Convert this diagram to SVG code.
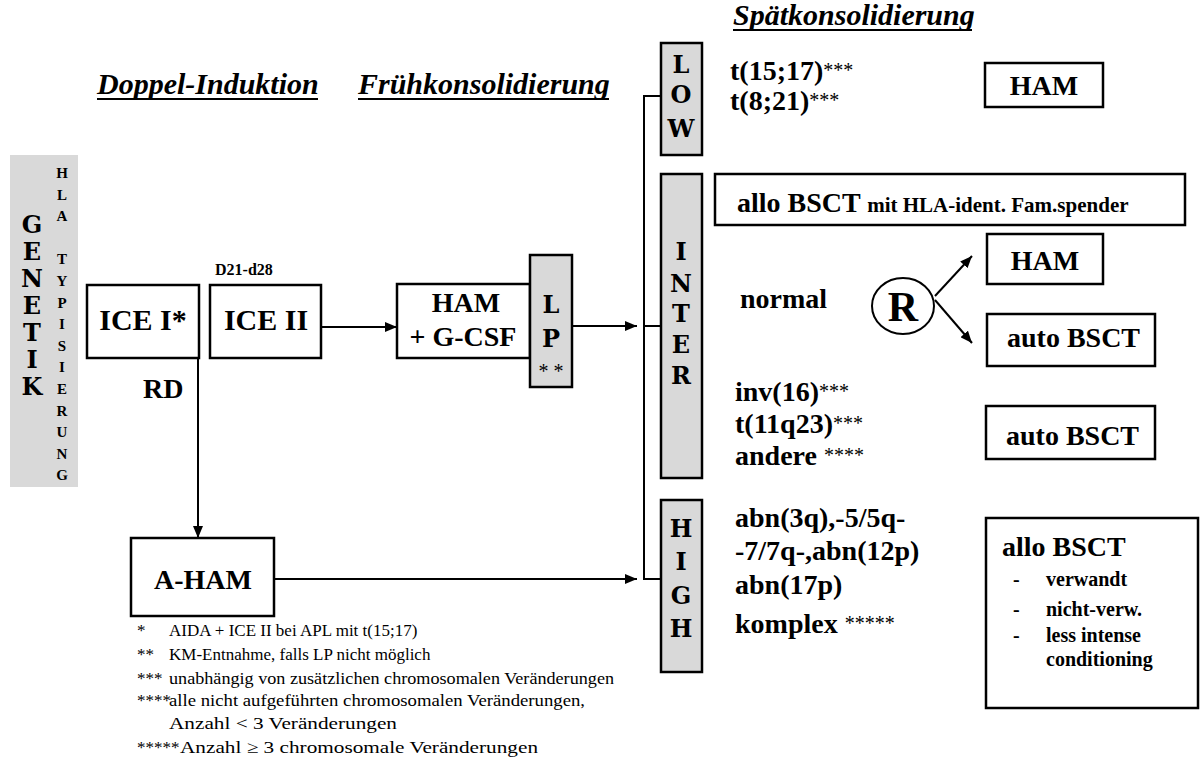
<svg xmlns="http://www.w3.org/2000/svg" width="1204" height="763" viewBox="0 0 1204 763">
<defs>
<marker id="ah" markerWidth="12" markerHeight="10" refX="12" refY="5" orient="auto" markerUnits="userSpaceOnUse">
<path d="M0,0 L12,5 L0,10 z" fill="#000"/>
</marker>
<style>
text{font-family:'Liberation Serif',serif;fill:#000}
.b{font-weight:bold}
.h{font-weight:bold;font-style:italic;font-size:30px}
.ul{stroke:#000;stroke-width:2}
.box{fill:#fff;stroke:#000;stroke-width:2.5}
.gray{fill:#d9d9d9;stroke:#000;stroke-width:2.5}
.big{font-weight:bold;font-size:28px}
.dv{font-family:'DejaVu Serif',serif;font-weight:bold;font-size:24px}
.tnr{font-family:'Times New Roman',serif}
.mid{text-anchor:middle}
.conn{stroke:#000;stroke-width:2;fill:none}
.fn{font-size:17px}
.st{font-weight:normal;font-size:20px}
</style>
</defs>
<rect width="1204" height="763" fill="#fff"/>

<g id="headings">
<text class="h" x="97" y="94">Doppel-Induktion</text>
<line class="ul" x1="97" y1="99" x2="318" y2="99"/>
<text class="h" x="358" y="94">Frühkonsolidierung</text>
<line class="ul" x1="358" y1="99" x2="609" y2="99"/>
<text class="h" x="733" y="25">Spätkonsolidierung</text>
<line class="ul" x1="733" y1="30" x2="972" y2="30"/>
</g>

<g id="genetik">
<rect x="10" y="155" width="68" height="332" fill="#d9d9d9"/>
<text class="dv mid" x="32" y="233">G</text><text class="dv mid" x="32" y="260">E</text><text class="dv mid" x="32" y="287">N</text><text class="dv mid" x="32" y="314">E</text><text class="dv mid" x="32" y="341">T</text><text class="dv mid" x="32" y="368">I</text><text class="dv mid" x="32" y="395">K</text>
<g class="b mid" style="font-size:15px">
<text x="62" y="178">H</text><text x="62" y="200">L</text><text x="62" y="221">A</text>
<text x="62" y="264">T</text><text x="62" y="286">Y</text><text x="62" y="308">P</text><text x="62" y="329">I</text><text x="62" y="351">S</text><text x="62" y="372">I</text><text x="62" y="394">E</text><text x="62" y="416">R</text><text x="62" y="437">U</text><text x="62" y="459">N</text><text x="62" y="480">G</text>
</g>
</g>

<g id="ice1">
<rect class="box" x="87" y="285" width="112" height="73"/>
<text class="big mid tnr" style="font-size:30px" x="143" y="330">ICE I*</text>
</g>
<g id="ice2">
<text class="b" style="font-size:16px" x="215" y="275">D21-d28</text>
<rect class="box" x="210" y="285" width="111" height="73"/>
<text class="big mid tnr" style="font-size:30px" x="266" y="330">ICE II</text>
</g>
<g id="rd"><text class="big tnr" x="143" y="398">RD</text></g>

<g id="hamgcsf">
<rect class="box" x="397" y="284" width="133" height="74"/>
<text class="big mid tnr" x="466" y="312">HAM</text>
<text class="big mid tnr" x="463" y="346">+ G-CSF</text>
</g>
<g id="lp">
<rect class="gray" x="530" y="255" width="42" height="132"/>
<text class="dv mid" x="551" y="313">L</text>
<text class="dv mid" x="551" y="347">P</text>
<text class="mid" style="font-size:20px" x="551" y="378">* *</text>
</g>

<g id="aham">
<rect class="box" x="131" y="538" width="143" height="78"/>
<text class="big mid tnr" x="203" y="589">A-HAM</text>
</g>

<g id="low">
<rect class="gray" x="661" y="43" width="41" height="112"/>
<text class="dv mid" x="681" y="73">L</text><text class="dv mid" x="681" y="103">O</text><text class="dv mid" x="681" y="137">W</text>
</g>
<g id="inter">
<rect class="gray" x="661" y="174" width="41" height="304"/>
<text class="dv mid" x="681" y="260">I</text><text class="dv mid" x="681" y="292">N</text><text class="dv mid" x="681" y="322">T</text><text class="dv mid" x="681" y="353">E</text><text class="dv mid" x="681" y="384">R</text>
</g>
<g id="high">
<rect class="gray" x="661" y="500" width="41" height="172"/>
<text class="dv mid" x="681" y="537">H</text><text class="dv mid" x="681" y="570">I</text><text class="dv mid" x="681" y="604">G</text><text class="dv mid" x="681" y="637">H</text>
</g>

<g id="low-texts">
<text class="big" x="730" y="80">t(15;17)<tspan class="st" dy="-3">***</tspan></text>
<text class="big" x="730" y="110">t(8;21)<tspan class="st" dy="-3">***</tspan></text>
</g>
<g id="ham-low">
<rect class="box" x="985" y="63" width="118" height="44"/>
<text class="big mid" x="1044" y="95">HAM</text>
</g>

<g id="allo-fam">
<rect class="box" x="715" y="174" width="470" height="51"/>
<text class="big" x="737" y="212">allo BSCT <tspan style="font-size:21px">mit HLA-ident. Fam.spender</tspan></text>
</g>
<g id="normal"><text class="big" x="740" y="308">normal</text></g>
<g id="r">
<ellipse cx="903" cy="306" rx="31" ry="28" fill="#fff" stroke="#000" stroke-width="2"/>
<text class="big mid" style="font-size:42px" x="903" y="321">R</text>
</g>
<g id="ham-r">
<rect class="box" x="987" y="234" width="116" height="50"/>
<text class="big mid" x="1045" y="270">HAM</text>
</g>
<g id="auto1">
<rect class="box" x="987" y="314" width="168" height="52"/>
<text class="big" x="1007" y="347">auto BSCT</text>
</g>

<g id="inter-texts">
<text class="big" x="735" y="401">inv(16)<tspan class="st" dy="-3">***</tspan></text>
<text class="big" x="735" y="433">t(11q23)<tspan class="st" dy="-3">***</tspan></text>
<text class="big" x="735" y="465">andere <tspan class="st" dy="-3">****</tspan></text>
</g>
<g id="auto2">
<rect class="box" x="986" y="406" width="169" height="53"/>
<text class="big" x="1006" y="445">auto BSCT</text>
</g>

<g id="high-texts">
<text class="big" x="735" y="527">abn(3q),-5/5q-</text>
<text class="big" x="735" y="560">-7/7q-,abn(12p)</text>
<text class="big" x="735" y="594">abn(17p)</text>
<text class="big" x="735" y="633">komplex <tspan class="st" dy="-3">*****</tspan></text>
</g>
<g id="allo-high">
<rect class="box" x="986" y="518" width="212" height="190"/>
<text class="big" x="1002" y="556">allo BSCT</text>
<g class="b" style="font-size:20px">
<text x="1013" y="586">-</text><text x="1046" y="586">verwandt</text>
<text x="1013" y="616">-</text><text x="1046" y="616">nicht-verw.</text>
<text x="1013" y="642">-</text><text x="1046" y="642">less intense</text>
<text x="1046" y="666">conditioning</text>
</g>
</g>

<g id="footnotes" class="fn">
<text x="137" y="636">*</text><text x="169" y="636">AIDA + ICE II bei APL mit t(15;17)</text>
<text x="137" y="660">**</text><text x="169" y="660">KM-Entnahme,  falls LP nicht möglich</text>
<text x="137" y="684">***</text><text x="169" y="684" textLength="445" lengthAdjust="spacingAndGlyphs">unabhängig von zusätzlichen chromosomalen Veränderungen</text>
<text x="137" y="706">****</text><text x="169" y="706" textLength="416" lengthAdjust="spacingAndGlyphs">alle nicht aufgeführten chromosomalen Veränderungen,</text>
<text x="169" y="729" textLength="228" lengthAdjust="spacingAndGlyphs">Anzahl &lt; 3 Veränderungen</text>
<text x="137" y="753">*****</text><text x="180" y="753" textLength="358" lengthAdjust="spacingAndGlyphs">Anzahl ≥ 3 chromosomale Veränderungen</text>
</g>

<g id="connectors" class="conn">
<line x1="321" y1="327" x2="397" y2="327" marker-end="url(#ah)"/>
<line x1="572" y1="326" x2="637" y2="326" marker-end="url(#ah)"/>
<line x1="198" y1="358" x2="198" y2="538" marker-end="url(#ah)"/>
<line x1="274" y1="579" x2="637" y2="579" marker-end="url(#ah)"/>
<polyline points="661,96 644,96 644,579 661,579"/>
<line x1="644" y1="326" x2="661" y2="326"/>
<line x1="935" y1="296" x2="972" y2="256" marker-end="url(#ah)"/>
<line x1="935" y1="300" x2="972" y2="343" marker-end="url(#ah)"/>
</g>
</svg>
